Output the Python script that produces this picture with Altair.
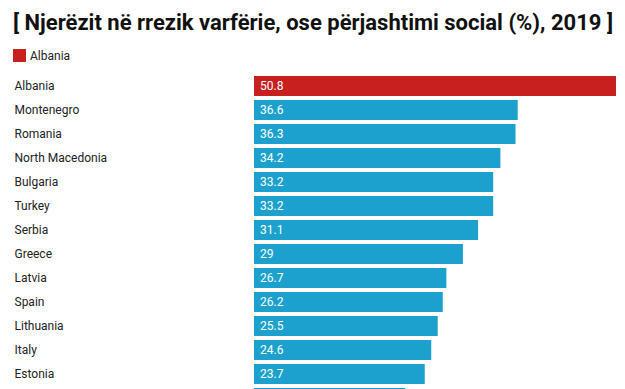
import altair as alt
import pandas as pd

countries = ["Albania", "Montenegro", "Romania", "North Macedonia", "Bulgaria",
             "Turkey", "Serbia", "Greece", "Latvia", "Spain", "Lithuania",
             "Italy", "Estonia", "Croatia"]
values = [50.8, 36.6, 36.3, 34.2, 33.2, 33.2, 31.1, 29, 26.7, 26.2, 25.5,
          24.6, 23.7, 21.0]
labels = ["50.8", "36.6", "36.3", "34.2", "33.2", "33.2", "31.1", "29",
          "26.7", "26.2", "25.5", "24.6", "23.7", "21"]
highlight = ["Albania"]

df = pd.DataFrame({"country": countries, "value": values, "label": labels})
df["group"] = ["Albania" if c in highlight else "Other" for c in countries]

RED = "#c81f1f"
BLUE = "#1ca1cf"

y = alt.Y(
    "country:N",
    sort=countries,
    scale=alt.Scale(domain=countries, paddingInner=4 / 24, paddingOuter=2 / 24),
    axis=alt.Axis(title=None, labelAlign="left", labelPadding=240, ticks=False,
                  domain=False, labelFont="Roboto", labelFontSize=12,
                  labelColor="#222222"),
)
x = alt.X("value:Q", scale=alt.Scale(domain=[0, 50.8], nice=False), axis=None)

bars = alt.Chart(df).mark_bar().encode(
    x=x,
    y=y,
    color=alt.Color(
        "group:N",
        scale=alt.Scale(domain=["Albania", "Other"], range=[RED, BLUE]),
        legend=alt.Legend(values=["Albania"], title=None, orient="none",
                          legendX=-241, legendY=-25, symbolType="square",
                          symbolSize=169, symbolStrokeWidth=0, labelFont="Roboto",
                          labelFontSize=12, labelColor="#222222", labelOffset=4),
    ),
)
text = alt.Chart(df).mark_text(
    align="left", baseline="middle", dx=6, color="white", font="Roboto", fontSize=12
).encode(x=alt.value(0), y=y, text="label:N")

chart = alt.layer(bars, text).properties(
    width=366,
    height=alt.Step(24),
    title=alt.Title(
        "[ Njerëzit në rrezik varfërie, ose përjashtimi social (%), 2019 ]",
        anchor="start", font="Roboto", fontSize=22, fontWeight="bold",
        color="#111111", offset=14,
    ),
    padding={"left": 246, "top": 66, "right": -4, "bottom": 0},
    autosize=alt.AutoSizeParams(type="none"),
).configure_view(stroke=None)

chart.save("out.html", embed_options={"renderer": "svg", "actions": False})
